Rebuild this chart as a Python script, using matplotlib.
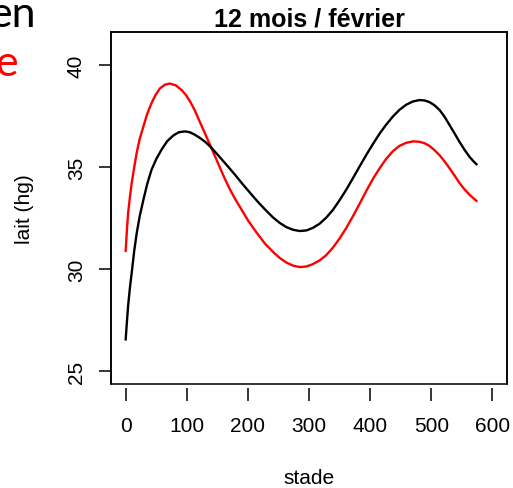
import matplotlib
matplotlib.use("Agg")
import matplotlib.pyplot as plt
from matplotlib.patches import Rectangle

plt.rcParams['font.family'] = ['Liberation Sans', 'DejaVu Sans']

# courbes
stade_noir = [0, 2, 4, 7, 10, 14, 18, 23, 29, 35, 42, 50, 59, 68, 78, 87, 97, 105,
              113, 121, 130, 140, 151, 165, 179, 192, 206, 217, 228, 241, 252, 263,
              274, 285, 296, 306, 317, 328, 339, 350, 361, 372, 383, 394, 405, 416,
              426, 437, 448, 459, 470, 481, 489, 497, 505, 514, 522, 530, 538, 546,
              554, 563, 569, 574]
lait_noir = [26.55, 27.4, 28.2, 29.1, 29.85, 30.9, 31.75, 32.6, 33.4, 34.15, 34.85,
             35.4, 35.88, 36.28, 36.56, 36.72, 36.76, 36.72, 36.6, 36.45, 36.25,
             35.97, 35.6, 35.12, 34.63, 34.15, 33.66, 33.28, 32.93, 32.54, 32.27,
             32.06, 31.93, 31.87, 31.9, 32.02, 32.22, 32.52, 32.9, 33.38, 33.9,
             34.47, 35.05, 35.62, 36.16, 36.67, 37.08, 37.48, 37.82, 38.07, 38.23,
             38.3, 38.28, 38.2, 38.05, 37.8, 37.47, 37.07, 36.67, 36.26, 35.88,
             35.5, 35.3, 35.15]

stade_rouge = [0, 2, 4, 7, 10, 14, 18, 23, 29, 35, 42, 49, 56, 64, 72, 82, 92, 99,
               105, 113, 121, 130, 138, 146, 154, 162, 170, 179, 190, 200, 214, 228,
               241, 252, 263, 274, 285, 296, 306, 317, 328, 339, 350, 361, 372, 383,
               394, 405, 416, 426, 437, 448, 459, 470, 481, 489, 497, 505, 514, 522,
               530, 538, 546, 554, 563, 569, 574]
lait_rouge = [30.9, 31.9, 32.75, 33.55, 34.25, 35.0, 35.7, 36.4, 37.0, 37.6, 38.13,
              38.55, 38.87, 39.05, 39.11, 39.02, 38.78, 38.53, 38.25, 37.8, 37.25,
              36.65, 36.1, 35.55, 35.0, 34.45, 33.95, 33.45, 32.9, 32.4, 31.8, 31.25,
              30.85, 30.55, 30.32, 30.17, 30.1, 30.13, 30.24, 30.42, 30.68, 31.05,
              31.5, 32.02, 32.6, 33.22, 33.85, 34.45, 34.97, 35.4, 35.78, 36.05,
              36.2, 36.27, 36.25, 36.18, 36.05, 35.85, 35.58, 35.28, 34.95, 34.6,
              34.24, 33.93, 33.64, 33.48, 33.35]

xticks = [0, 100, 200, 300, 400, 500, 600]
yticks = [25, 30, 35, 40]

fig = plt.figure(figsize=(5.13, 4.89), dpi=100)
ax = fig.add_axes([111 / 513, 1 - 385 / 489, 396 / 513, 352 / 489])

ax.plot(stade_rouge, lait_rouge, color='red', lw=1.7)
ax.plot(stade_noir, lait_noir, color='black', lw=1.7)

ax.set_xlim(-24, 624)
ax.set_ylim(24.36, 41.64)
ax.set_xticks(xticks)
ax.set_yticks(yticks)
ax.set_yticklabels([str(v) for v in yticks], rotation=90, va='center')
ax.tick_params(axis='both', labelsize=15, length=9, width=1.1, direction='out')
ax.tick_params(axis='y', pad=9)
ax.tick_params(axis='x', pad=11)

# boite a la R, axe x un peu decale
for s in ax.spines.values():
    s.set_linewidth(1.1)
ax.spines['bottom'].set_position(('outward', 3))
ax.spines['bottom'].set_color('none')
ax.add_patch(Rectangle((0, 0), 1, 1, transform=ax.transAxes, fill=False,
                       lw=1.1, ec='black', clip_on=False))

ax.set_title('12 mois / février', fontsize=18, fontweight='bold', pad=5)
ax.set_xlabel('stade', fontsize=15, labelpad=24)
ax.set_ylabel('lait (hg)', fontsize=15, labelpad=24)

# restes du texte de la diapositive
fig.text(36 / 513, 1 - 27 / 489, 'en', fontsize=31, family=['Lato', 'DejaVu Sans'],
         ha='right', va='baseline', color='black')
fig.text(18 / 513, 1 - 76 / 489, 'e', fontsize=31, family=['Lato', 'DejaVu Sans'],
         ha='right', va='baseline', color='red')

fig.savefig('out.png', dpi=100)
